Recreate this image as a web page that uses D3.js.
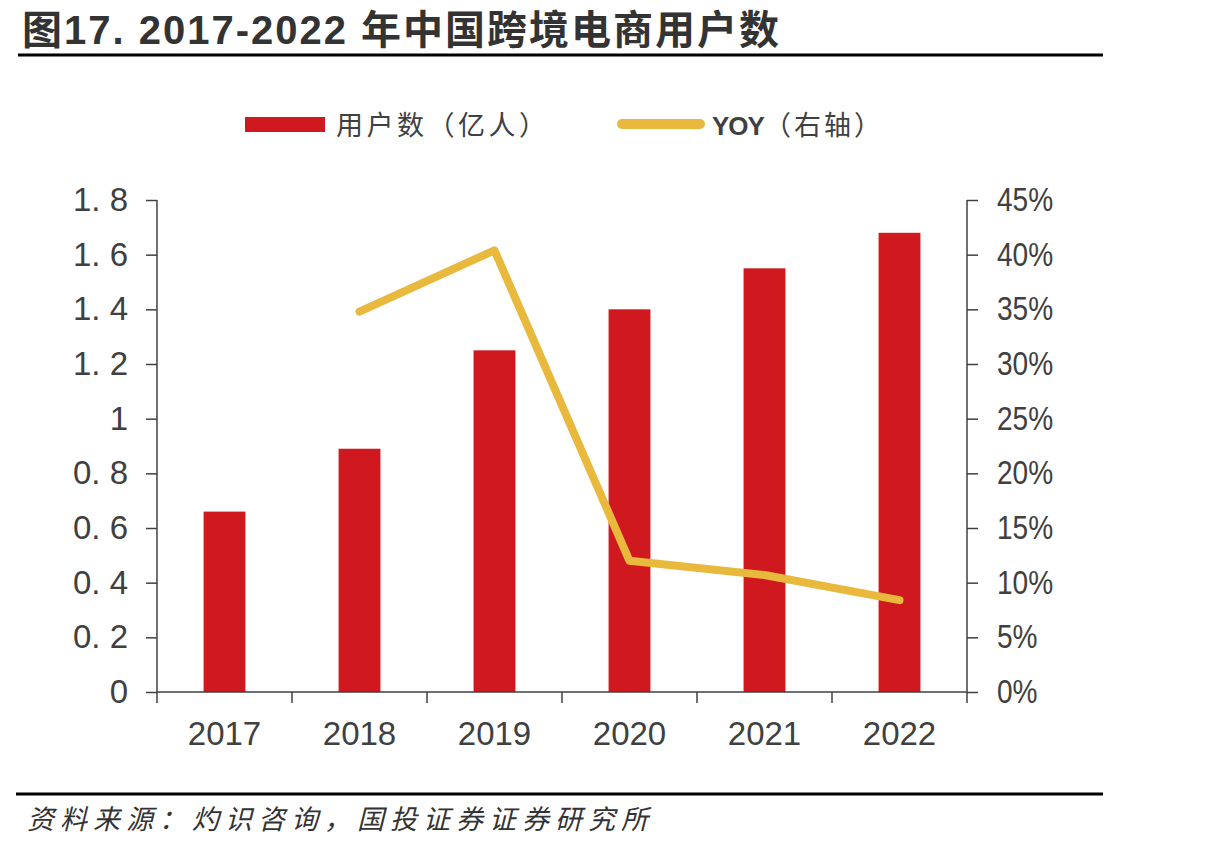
<!DOCTYPE html>
<html>
<head>
<meta charset="utf-8">
<script src="https://cdn.jsdelivr.net/npm/d3@7"></script>
<style>
  body { margin: 0; background: #fff; }
  svg text { fill: #404040; }
</style>
</head>
<body>
<div id="chart"></div>
<script>
// DATA
var years = ["2017", "2018", "2019", "2020", "2021", "2022"];
var users = [0.66, 0.89, 1.25, 1.40, 1.55, 1.68];        // 亿人
var yoy = [null, 34.8, 40.4, 12.0, 10.7, 8.4];           // %
var leftTicks = [0, 0.2, 0.4, 0.6, 0.8, 1, 1.2, 1.4, 1.6, 1.8];
var rightTicks = [0, 5, 10, 15, 20, 25, 30, 35, 40, 45];

var w = 1220, h = 850;
var plotL = 157, plotR = 967, plotT = 200, plotB = 692;
var numFont = "'Liberation Sans', Arial, sans-serif";
var cjkFont = "'Noto Sans CJK SC', sans-serif";

var svg = d3.select("#chart").append("svg").attr("width", w).attr("height", h);

// TITLE
svg.append("text")
  .attr("x", 22).attr("y", 44)
  .attr("font-family", "'Liberation Sans', 'Noto Sans CJK SC', sans-serif")
  .attr("font-weight", "bold")
  .attr("font-size", "40px")
  .attr("letter-spacing", "2px")
  .style("fill", "#333")
  .text("图17. 2017-2022 年中国跨境电商用户数");

svg.append("line")
  .attr("x1", 18).attr("x2", 1103).attr("y1", 55).attr("y2", 55)
  .attr("stroke", "#000").attr("stroke-width", 3);

// SCALES
var xScale = d3.scaleBand().domain(years).range([plotL, plotR]).paddingInner(0.69).paddingOuter(0.345);
var band = d3.scaleBand().domain(years).range([plotL, plotR]);
var yLeft = d3.scaleLinear().domain([0, 1.8]).range([plotB, plotT]);
var yRight = d3.scaleLinear().domain([0, 45]).range([plotB, plotT]);

// BARS
svg.selectAll(".bar")
  .data(users)
  .enter()
  .append("rect")
  .attr("class", "bar")
  .attr("x", function (d, i) { return xScale(years[i]); })
  .attr("y", function (d) { return yLeft(d); })
  .attr("width", xScale.bandwidth())
  .attr("height", function (d) { return plotB - yLeft(d); })
  .attr("fill", "#D0181F");

// LINE
var line = d3.line()
  .defined(function (d) { return d !== null; })
  .x(function (d, i) { return band(years[i]) + band.bandwidth() / 2; })
  .y(function (d) { return yRight(d); });

svg.append("path")
  .datum(yoy)
  .attr("d", line)
  .attr("fill", "none")
  .attr("stroke", "#E8B93C")
  .attr("stroke-width", 8)
  .attr("stroke-linecap", "round")
  .attr("stroke-linejoin", "round");

// AXES
var yAxisL = d3.axisLeft(yLeft).tickValues(leftTicks).tickSize(11).tickPadding(18)
  .tickFormat(function (d) { return d === 0 || d === 1 ? String(d) : d3.format(".1f")(d).replace(".", ". "); });
var gL = svg.append("g").attr("transform", "translate(" + plotL + ",0)").call(yAxisL);

var yAxisR = d3.axisRight(yRight).tickValues(rightTicks).tickSize(11).tickPadding(19)
  .tickFormat(function (d) { return d + "%"; });
var gR = svg.append("g").attr("transform", "translate(" + plotR + ",0)").call(yAxisR);

var xAxis = d3.axisBottom(band).tickSize(0).tickPadding(30);
var gX = svg.append("g").attr("transform", "translate(0," + plotB + ")").call(xAxis);

// boundary ticks on x axis
svg.selectAll(".xtick")
  .data(years.concat([null]))
  .enter()
  .append("line")
  .attr("x1", function (d, i) { return i < years.length ? band(d) : plotR; })
  .attr("x2", function (d, i) { return i < years.length ? band(d) : plotR; })
  .attr("y1", plotB).attr("y2", plotB + 11)
  .attr("stroke", "#404040").attr("stroke-width", 1.5);

[gL, gR, gX].forEach(function (g) {
  g.select(".domain").attr("stroke", "#404040").attr("stroke-width", 1.5);
  g.selectAll(".tick line").attr("stroke", "#404040").attr("stroke-width", 1.5);
  g.selectAll("text")
    .attr("font-family", numFont)
    .attr("font-size", "33px")
    .style("fill", "#404040");
});
gX.select(".domain").attr("d", "M" + plotL + ",0H" + plotR);
gL.select(".domain").attr("d", "M0," + plotT + "V" + plotB);
gR.select(".domain").attr("d", "M0," + plotT + "V" + plotB);

// narrower percent labels
gR.selectAll(".tick text")
  .attr("x", 0)
  .attr("transform", "translate(30,0) scale(0.85,1)");

// LEGEND
svg.append("rect").attr("x", 245).attr("y", 117).attr("width", 80).attr("height", 15).attr("fill", "#D0181F");
svg.append("text").attr("x", 336).attr("y", 135)
  .attr("font-family", cjkFont).attr("font-size", "27px").attr("letter-spacing", "3.5px")
  .text("用户数（亿人）");

svg.append("line").attr("x1", 622).attr("x2", 700).attr("y1", 124).attr("y2", 124)
  .attr("stroke", "#E8B93C").attr("stroke-width", 10).attr("stroke-linecap", "round");
var lt = svg.append("text").attr("x", 712).attr("y", 135)
  .attr("font-family", cjkFont).attr("font-size", "27px");
lt.append("tspan")
  .attr("font-family", numFont)
  .attr("font-weight", "bold").attr("font-size", "26px")
  .attr("letter-spacing", "-1px")
  .text("YOY");
lt.append("tspan")
  .attr("letter-spacing", "3px")
  .text("（右轴）");

// SOURCE
svg.append("line")
  .attr("x1", 16).attr("x2", 1103).attr("y1", 794).attr("y2", 794)
  .attr("stroke", "#000").attr("stroke-width", 3);
svg.append("text").attr("x", 27).attr("y", 829)
  .attr("font-family", cjkFont).attr("font-style", "italic").attr("font-size", "27px")
  .attr("letter-spacing", "6px")
  .style("fill", "#333")
  .text("资料来源：灼识咨询，国投证券证券研究所");
</script>
</body>
</html>
